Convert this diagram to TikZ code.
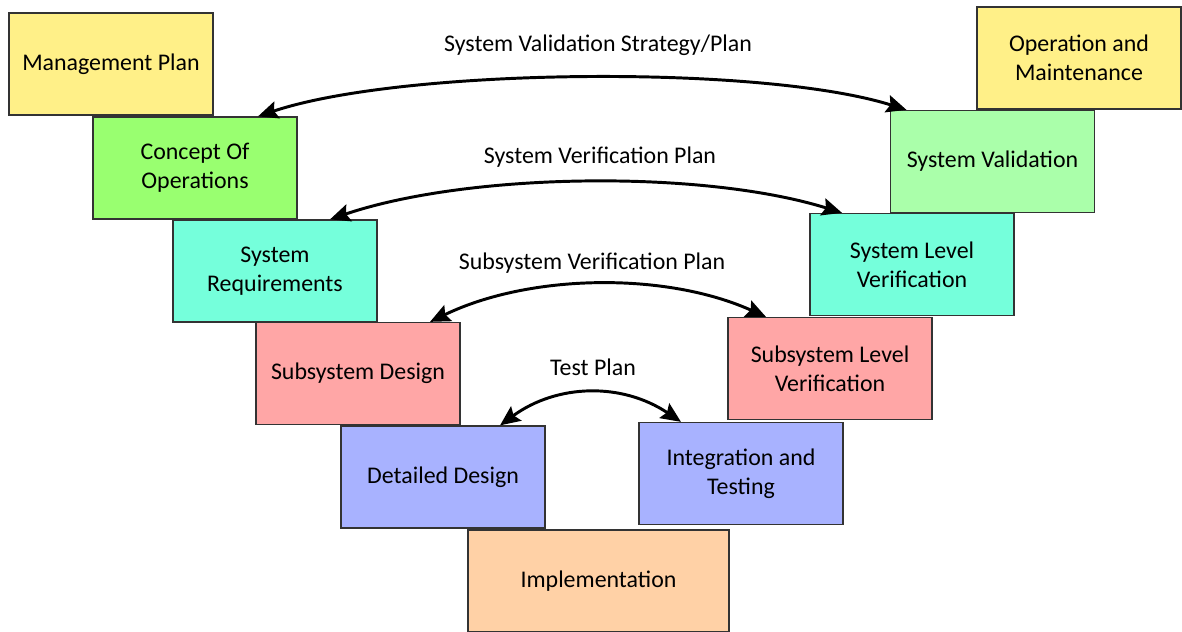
\documentclass[tikz,border=0pt]{standalone}
\usepackage{fontspec}
\setmainfont{Carlito}
\usetikzlibrary{arrows.meta}

\definecolor{planyellow}{RGB}{255,240,136}
\definecolor{conopsgreen}{RGB}{153,255,112}
\definecolor{valgreen}{RGB}{170,255,170}
\definecolor{reqcyan}{RGB}{117,255,219}
\definecolor{subred}{RGB}{255,166,166}
\definecolor{detblue}{RGB}{168,178,255}
\definecolor{implorange}{RGB}{255,209,166}

\begin{document}
\begin{tikzpicture}[x=0.025cm,y=-0.025cm,
  phase/.style={draw=black!80,line width=0.9pt,minimum width=5.1cm,minimum height=2.55cm,
    align=center,inner sep=2pt,font=\fontsize{17}{20.5}\selectfont},
  link/.style={{Stealth[length=0.5cm,width=0.44cm,inset=0.08cm]}-{Stealth[length=0.5cm,width=0.44cm,inset=0.08cm]},line width=2.1pt},
  plan/.style={font=\fontsize{17}{20.5}\selectfont}]
\useasboundingbox (0,0) rectangle (1182,631);
% left leg
\node[phase,fill=planyellow] (mgmt) at (111,64) {Management Plan};
\node[phase,fill=conopsgreen] (conops) at (195,168) {Concept Of\\Operations};
\node[phase,fill=reqcyan] (sysreq) at (275,271) {System\\Requirements};
\node[phase,fill=subred] (subdes) at (358,373.5) {Subsystem Design};
\node[phase,fill=detblue] (detdes) at (443,477) {Detailed Design};
% bottom
\node[phase,fill=implorange,minimum width=6.525cm] (impl) at (598.5,581) {Implementation};
% right leg
\node[phase,fill=detblue] (inttest) at (741,473.5) {Integration and\\Testing};
\node[phase,fill=subred] (sublv) at (830,368.5) {Subsystem Level\\Verification};
\node[phase,fill=reqcyan] (syslv) at (912,264.5) {System Level\\Verification};
\node[phase,fill=valgreen] (sysval) at (992.5,161.5) {System Validation};
\node[phase,fill=planyellow] (opmaint) at (1079,58) {Operation and\\Maintenance};
% plans
\node[plan] (valplan) at (598,45) {System Validation Strategy/Plan};
\node[plan] (verplan) at (600,157) {System Verification Plan};
\node[plan] (subplan) at (592,263) {Subsystem Verification Plan};
\node[plan] (testplan) at (593,367) {Test Plan};
\draw[link] ([xshift=1.575cm]conops.north) to[bend left=18,looseness=0.6] ([xshift=-2.15cm]sysval.north);
\draw[link] ([xshift=1.375cm]sysreq.north) to[bend left=18,looseness=0.73] ([xshift=-1.75cm]syslv.north);
\draw[link] ([xshift=1.8cm]subdes.north) to[bend left=25,looseness=0.84] ([xshift=-1.6cm]sublv.north);
\draw[link] ([xshift=1.425cm]detdes.north) to[bend left=35,looseness=1] ([xshift=-1.5cm]inttest.north);
\end{tikzpicture}
\end{document}
